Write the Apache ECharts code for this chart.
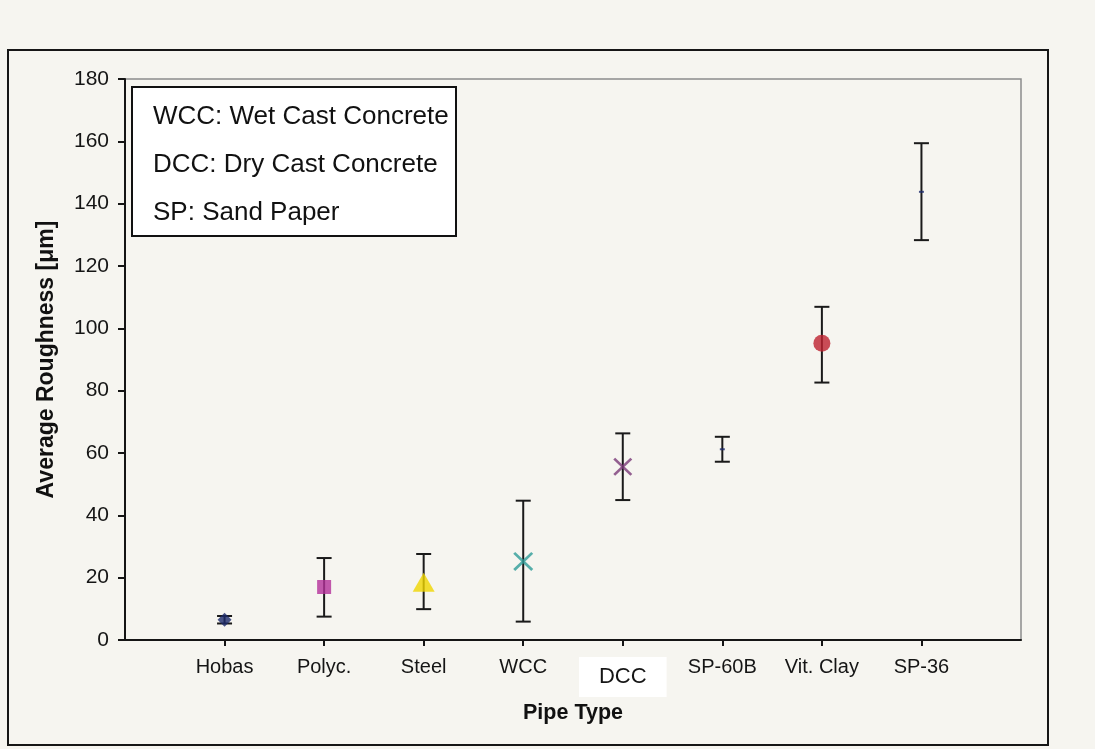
<!DOCTYPE html>
<html>
<head>
<meta charset="utf-8">
<script src="https://cdn.jsdelivr.net/npm/echarts@6/dist/echarts.min.js"></script>
<style>
html,body{margin:0;padding:0;background:#f6f5f0;}
#chart{width:1095px;height:749px;}
</style>
</head>
<body>
<div id="chart"></div>
<script>
// ---- data ----
const categories = ['Hobas', 'Polyc.', 'Steel', 'WCC', 'DCC', 'SP-60B', 'Vit. Clay', 'SP-36'];
const roughness  = [6.5, 17.0, 18.5, 25.2, 55.6, 61.2, 95.2, 143.8];
const errLow     = [5.3, 7.5, 9.9, 5.9, 44.9, 57.2, 82.6, 128.3];
const errHigh    = [7.7, 26.3, 27.6, 44.7, 66.3, 65.2, 106.9, 159.4];
const yMin = 0, yMax = 180, yStep = 20;
const xMin = 0, xMax = 9;
const notes = ['WCC: Wet Cast Concrete', 'DCC: Dry Cast Concrete', 'SP: Sand Paper'];

// ---- marker styles (one per category) ----
const crossPath = 'path://M0,1L1,0L10,9L9,10Z M9,0L10,1L1,10L0,9Z';
const dashPath = 'path://M0,0H10V2H0Z';
const markers = [
  { symbol: 'diamond', size: [14, 14], color: '#1d2b6b' },
  { symbol: 'rect', size: [14, 14], color: '#b4309a' },
  { symbol: 'triangle', size: [22, 19], color: '#f0d600' },
  { symbol: crossPath, size: [20, 19], color: '#2e9c98' },
  { symbol: crossPath, size: [19, 18], color: '#7a3a78' },
  { symbol: dashPath, size: [5, 2], color: '#1d2b6b' },
  { symbol: 'circle', size: [17, 17], color: '#be2230' },
  { symbol: dashPath, size: [5, 2], color: '#1d2b6b' }
];

const xPositions = categories.map((c, i) => i + 1);
const pointData = categories.map((c, i) => ({
  value: [xPositions[i], roughness[i]],
  symbol: markers[i].symbol,
  symbolSize: markers[i].size,
  itemStyle: { color: markers[i].color }
}));
const errData = categories.map((c, i) => [xPositions[i], errLow[i], errHigh[i]]);

const font = '"Liberation Sans", Arial, sans-serif';
const chart = echarts.init(document.getElementById('chart'), null, { renderer: 'canvas' });

chart.setOption({
  animation: false,
  backgroundColor: '#f6f5f0',
  grid: {
    left: 125, top: 79, width: 896, height: 561,
    show: true, backgroundColor: 'transparent',
    borderColor: '#8c8c8c', borderWidth: 1.5
  },
  xAxis: {
    type: 'value', min: xMin, max: xMax, interval: 1,
    name: 'Pipe Type', nameLocation: 'middle', nameGap: 61,
    nameTextStyle: { fontFamily: font, fontSize: 21.5, fontWeight: 'bold', color: '#111' },
    axisLine: { show: true, onZero: false, lineStyle: { color: '#151515', width: 2 } },
    axisTick: { show: true, length: 6, lineStyle: { color: '#151515', width: 2 }, customValues: xPositions },
    axisLabel: {
      fontFamily: font, fontSize: 20, color: '#151515', margin: 17,
      customValues: xPositions,
      formatter: function (v) {
        const name = categories[Math.round(v) - 1] || '';
        return name === 'DCC' ? '{w|' + name + '}' : name;
      },
      rich: {
        w: { fontFamily: font, fontSize: 22, color: '#151515', backgroundColor: '#ffffff', padding: [9, 20, 9, 20] }
      }
    },
    splitLine: { show: false }
  },
  yAxis: {
    type: 'value', min: yMin, max: yMax, interval: yStep,
    name: 'Average Roughness [\u03bcm]', nameLocation: 'middle', nameGap: 67,
    nameTextStyle: { fontFamily: font, fontSize: 23, fontWeight: 'bold', color: '#111' },
    axisLine: { show: true, lineStyle: { color: '#151515', width: 2 } },
    axisTick: { show: true, length: 7, lineStyle: { color: '#151515', width: 2 } },
    axisLabel: { fontFamily: font, fontSize: 21, color: '#151515', margin: 16 },
    splitLine: { show: false }
  },
  series: [
    {
      type: 'custom',
      name: 'error',
      data: errData,
      z: 2,
      renderItem: function (params, api) {
        const x = api.value(0);
        const lo = api.coord([x, api.value(1)]);
        const hi = api.coord([x, api.value(2)]);
        const cap = 7.5;
        const st = { stroke: '#1a1a1a', lineWidth: 2 };
        return {
          type: 'group',
          children: [
            { type: 'line', shape: { x1: lo[0], y1: lo[1], x2: hi[0], y2: hi[1] }, style: st },
            { type: 'line', shape: { x1: lo[0] - cap, y1: lo[1], x2: lo[0] + cap, y2: lo[1] }, style: st },
            { type: 'line', shape: { x1: hi[0] - cap, y1: hi[1], x2: hi[0] + cap, y2: hi[1] }, style: st }
          ]
        };
      }
    },
    {
      type: 'scatter',
      name: 'roughness',
      data: pointData,
      z: 3
    }
  ],
  graphic: [
    {
      type: 'rect', z: -1, silent: true,
      shape: { x: 8, y: 50, width: 1040, height: 695 },
      style: { fill: 'none', stroke: '#161616', lineWidth: 2 }
    },
    {
      type: 'group', z: 10,
      children: [
        {
          type: 'rect',
          shape: { x: 132, y: 87, width: 324, height: 149 },
          style: { fill: '#ffffff', stroke: '#111111', lineWidth: 2 }
        }
      ].concat(notes.map((t, i) => ({
        type: 'text',
        x: 153, y: 117 + i * 48,
        style: { text: t, fontFamily: font, fontSize: 26, fill: '#111111', textVerticalAlign: 'middle', textAlign: 'left' }
      })))
    }
  ]
});
</script>
</body>
</html>
